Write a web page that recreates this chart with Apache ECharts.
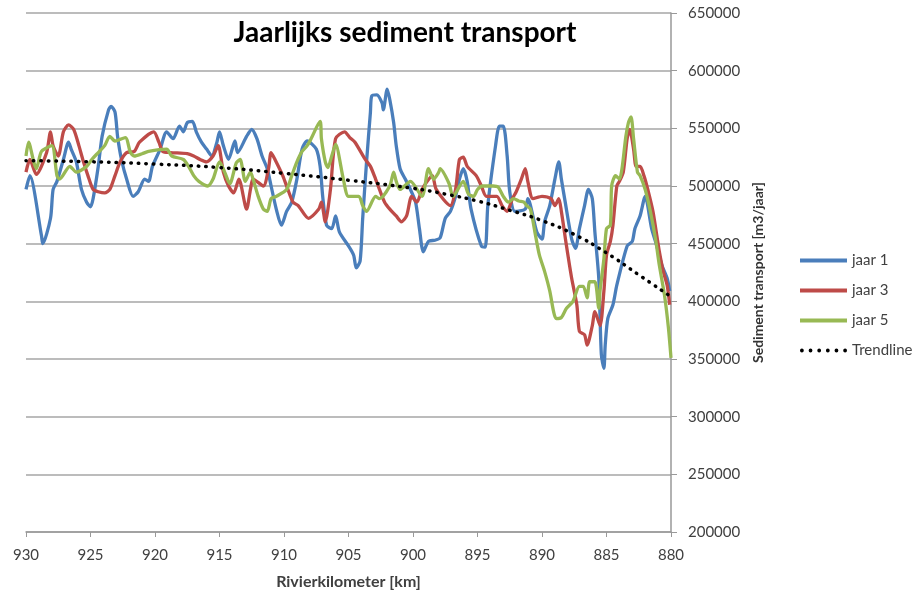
<!DOCTYPE html>
<html>
<head>
<meta charset="utf-8">
<script src="https://cdn.jsdelivr.net/npm/echarts@6/dist/echarts.min.js"></script>
<style>
  html, body { margin: 0; padding: 0; background: #fff; }
  #chart { width: 919px; height: 595px; }
</style>
</head>
<body>
<div id="chart"></div>
<script>
// sediment transport per rivierkilometer, [km, m3/jaar]
const jaar1 = [
  [930.0, 497000], [929.7, 509000], [928.8, 457000], [928.7, 450000], [928.1, 472000],
  [927.9, 497000], [927.6, 504000], [927.1, 523000], [926.7, 538000], [926.5, 532000],
  [926.1, 521000], [925.7, 497000], [925.3, 486000], [925.0, 482000], [924.8, 489000],
  [924.4, 517000], [924.1, 543000], [923.6, 566000], [923.4, 569000], [923.1, 564000],
  [922.9, 543000], [922.6, 523000], [922.2, 506000], [921.7, 491000], [921.3, 495000],
  [920.8, 506000], [920.5, 504000], [920.2, 517000], [919.6, 532000], [919.1, 547000],
  [918.6, 541000], [918.1, 552000], [917.8, 547000], [917.5, 555000], [917.1, 556000],
  [916.8, 547000], [916.4, 538000], [916.0, 532000], [915.6, 526000], [915.2, 538000],
  [915.0, 547000], [914.7, 535000], [914.3, 523000], [913.8, 539000], [913.6, 529000],
  [912.9, 543000], [912.5, 549000], [912.1, 541000], [911.7, 526000], [911.3, 515000],
  [911.0, 500000], [910.6, 480000], [910.2, 466000], [909.8, 478000], [909.4, 486000],
  [909.0, 506000], [908.6, 532000], [908.2, 539000], [907.5, 532000], [907.2, 517000],
  [907.0, 491000], [906.7, 466000], [906.3, 463000], [906.0, 474000], [905.7, 460000],
  [905.0, 448000], [904.6, 440000], [904.4, 429000], [904.1, 435000], [903.9, 472000],
  [903.6, 521000], [903.3, 564000], [903.2, 578000], [902.8, 579000], [902.4, 572000],
  [902.3, 566000], [902.0, 584000], [901.8, 575000], [901.5, 555000], [901.3, 535000],
  [901.0, 515000], [900.6, 506000], [900.2, 497000], [899.8, 486000], [899.5, 463000],
  [899.2, 443000], [898.8, 452000], [898.3, 453000], [897.9, 455000], [897.5, 472000],
  [897.1, 478000], [896.7, 491000], [896.4, 506000], [896.1, 515000], [895.8, 504000],
  [895.5, 480000], [894.7, 448000], [894.4, 447000], [894.2, 483000], [893.6, 535000],
  [893.3, 552000], [893.0, 552000], [892.7, 526000], [892.5, 495000], [892.1, 478000],
  [891.3, 480000], [891.1, 489000], [890.4, 460000], [890.0, 454000], [889.8, 469000],
  [889.4, 483000], [889.0, 506000], [888.7, 521000], [888.5, 506000], [888.2, 486000],
  [887.7, 454000], [887.4, 446000], [887.1, 463000], [886.7, 483000], [886.4, 497000],
  [886.1, 489000], [885.9, 460000], [885.6, 420000], [885.4, 354000], [885.2, 342000],
  [885.1, 362000], [884.9, 385000], [884.5, 397000], [884.2, 414000], [883.4, 448000],
  [883.0, 452000], [882.8, 463000], [882.4, 474000], [882.0, 491000], [881.5, 463000],
  [881.1, 448000], [880.7, 431000], [880.3, 420000], [880.1, 409000]
];

const jaar3 = [
  [930.0, 512000], [929.7, 523000], [929.2, 510000], [928.4, 529000], [928.1, 547000],
  [927.9, 535000], [927.5, 526000], [927.1, 547000], [926.7, 553000], [926.3, 549000],
  [925.9, 535000], [925.6, 523000], [925.2, 509000], [924.8, 497000], [924.4, 495000],
  [923.9, 494000], [923.5, 497000], [923.1, 509000], [922.7, 521000], [922.2, 529000],
  [921.6, 530000], [921.2, 538000], [920.1, 547000], [919.7, 538000], [919.4, 530000],
  [918.8, 529000], [917.5, 528000], [917.0, 526000], [916.5, 523000], [916.0, 521000],
  [915.5, 526000], [915.1, 535000], [914.7, 512000], [914.3, 500000], [913.9, 494000],
  [913.5, 506000], [912.9, 480000], [912.6, 497000], [912.4, 506000], [911.6, 500000],
  [911.2, 515000], [911.0, 529000], [910.7, 523000], [910.1, 509000], [909.7, 497000],
  [909.3, 486000], [908.9, 483000], [908.1, 472000], [907.3, 480000], [907.1, 486000],
  [906.8, 469000], [906.4, 497000], [906.0, 541000], [905.3, 547000], [904.9, 542000],
  [904.5, 538000], [903.7, 523000], [903.3, 517000], [902.9, 506000], [902.6, 497000],
  [902.2, 486000], [901.8, 480000], [901.3, 474000], [900.9, 469000], [900.5, 474000],
  [900.1, 491000], [899.7, 486000], [899.3, 497000], [898.9, 504000], [898.5, 509000],
  [898.2, 497000], [897.1, 483000], [896.7, 497000], [896.4, 523000], [896.1, 525000],
  [895.8, 517000], [895.1, 509000], [894.7, 500000], [894.3, 491000], [893.5, 491000],
  [893.1, 483000], [892.7, 478000], [892.3, 489000], [892.0, 495000], [891.6, 506000],
  [891.3, 515000], [891.1, 504000], [890.7, 489000], [890.0, 491000], [889.3, 489000],
  [889.0, 483000], [888.7, 489000], [888.5, 478000], [888.1, 448000], [887.7, 420000],
  [887.3, 397000], [887.1, 374000], [886.7, 371000], [886.5, 362000], [886.1, 379000],
  [885.9, 391000], [885.5, 379000], [885.2, 409000], [885.0, 440000], [884.7, 452000],
  [884.5, 466000], [884.2, 500000], [884.0, 504000], [883.7, 512000], [883.4, 541000],
  [883.2, 549000], [882.9, 532000], [882.7, 517000], [882.4, 517000], [882.1, 509000],
  [881.8, 497000], [881.4, 478000], [881.1, 457000], [880.9, 443000], [880.6, 426000],
  [880.3, 414000], [880.1, 397000]
];

const jaar5 = [
  [930.0, 526000], [929.8, 538000], [929.4, 521000], [929.2, 515000], [928.8, 530000],
  [928.0, 535000], [927.6, 509000], [927.4, 506000], [926.6, 517000], [926.1, 512000],
  [925.3, 517000], [924.9, 523000], [924.4, 529000], [923.9, 535000], [923.5, 543000],
  [923.1, 539000], [922.3, 542000], [921.9, 529000], [921.6, 526000], [921.0, 528000],
  [920.5, 530000], [919.1, 532000], [918.7, 526000], [917.8, 523000], [917.4, 517000],
  [917.0, 509000], [916.6, 504000], [915.9, 500000], [915.5, 506000], [915.0, 521000],
  [914.6, 512000], [914.2, 502000], [913.7, 520000], [913.4, 523000], [913.0, 504000],
  [912.6, 512000], [912.4, 506000], [912.0, 491000], [911.6, 480000], [911.3, 478000],
  [911.0, 489000], [910.6, 491000], [909.8, 497000], [909.4, 509000], [909.0, 521000],
  [908.6, 530000], [908.2, 535000], [907.9, 541000], [907.2, 556000], [907.1, 541000],
  [906.8, 521000], [906.6, 516000], [906.3, 526000], [906.0, 536000], [905.4, 506000],
  [905.0, 491000], [904.2, 491000], [903.9, 483000], [903.6, 478000], [902.9, 491000],
  [902.6, 489000], [901.8, 500000], [901.5, 512000], [901.3, 504000], [901.0, 497000],
  [900.2, 504000], [899.3, 491000], [898.8, 515000], [898.4, 506000], [898.0, 512000],
  [897.9, 515000], [897.2, 502000], [896.9, 491000], [896.1, 504000], [895.7, 493000],
  [895.3, 491000], [895.0, 497000], [894.6, 500000], [893.8, 500000], [893.4, 499000],
  [893.0, 491000], [892.6, 486000], [892.2, 489000], [891.8, 487000], [891.4, 486000],
  [891.2, 483000], [890.9, 480000], [890.5, 457000], [890.2, 440000], [889.8, 426000],
  [889.4, 409000], [889.1, 391000], [888.9, 385000], [888.5, 386000], [888.1, 394000],
  [887.6, 400000], [887.1, 413000], [886.8, 413000], [886.5, 403000], [886.3, 417000],
  [885.9, 417000], [885.6, 394000], [885.5, 409000], [885.2, 437000], [885.0, 463000],
  [884.7, 466000], [884.6, 500000], [884.3, 509000], [884.0, 506000], [883.8, 515000],
  [883.5, 543000], [883.3, 555000], [883.1, 560000], [882.9, 541000], [882.6, 512000],
  [882.4, 509000], [882.0, 497000], [881.6, 478000], [881.2, 454000], [880.9, 431000],
  [880.5, 405000], [880.2, 377000], [880.0, 351000]
];

const trendline = [
  [930, 522000], [925, 521000], [920, 519000], [915, 516000], [910, 511000],
  [905, 505000], [900, 498000], [897.5, 493000], [895, 487000], [892.5, 479000],
  [890, 470000], [887.5, 458000], [885, 442000], [882.5, 423000], [880, 404000]
];

const seriesNames = ['jaar 1', 'jaar 3', 'jaar 5', 'Trendline'];
const seriesColors = ['#4A7EBB', '#BE4B48', '#98B954', '#000000'];

const font = 'Lato, "Liberation Sans", sans-serif';

// legend icons: solid bar for the years, a row of dots for the trendline
const barIcon = 'path://M0,0H47V4H0Z';
let dotIcon = 'path://';
for (let i = 0; i < 6; i++) {
  const cx = 2 + i * 8.2;
  dotIcon += 'M' + (cx - 1.8) + ',2a1.8,1.8 0 1,0 3.6,0a1.8,1.8 0 1,0 -3.6,0Z';
}

const chart = echarts.init(document.getElementById('chart'));

function dataLine(i, data) {
  return {
    name: seriesNames[i],
    type: 'line',
    data: data,
    showSymbol: false,
    symbol: 'none',
    smooth: 0.25,
    lineStyle: { color: seriesColors[i], width: 3.3 },
    itemStyle: { color: seriesColors[i] },
    z: 3
  };
}

chart.setOption({
  animation: false,
  textStyle: { fontFamily: font },
  title: {
    text: 'Jaarlijks sediment transport',
    left: 400,
    top: 14,
    textAlign: 'center',
    textStyle: { fontFamily: font, fontSize: 28, fontWeight: 'bold', color: '#000' }
  },
  legend: {
    orient: 'vertical',
    left: 795,
    top: 248,
    itemWidth: 47,
    itemHeight: 4,
    itemGap: 15,
    textStyle: { fontFamily: font, fontSize: 15, color: '#404040' },
    data: [
      { name: seriesNames[0], icon: barIcon },
      { name: seriesNames[1], icon: barIcon },
      { name: seriesNames[2], icon: barIcon },
      { name: seriesNames[3], icon: dotIcon }
    ]
  },
  grid: { left: 26, right: 248, top: 13, bottom: 60 },
  xAxis: {
    type: 'value',
    min: 880,
    max: 930,
    interval: 5,
    inverse: true,
    name: 'Rivierkilometer [km]',
    nameLocation: 'middle',
    nameGap: 42,
    nameTextStyle: { fontFamily: font, fontSize: 16, fontWeight: 'bold', color: '#404040' },
    axisLine: { lineStyle: { color: '#999', width: 1.5 } },
    axisTick: { length: 5, lineStyle: { color: '#999' } },
    axisLabel: { fontFamily: font, fontSize: 15, color: '#404040', margin: 16 },
    splitLine: { show: false }
  },
  yAxis: {
    type: 'value',
    position: 'right',
    min: 200000,
    max: 650000,
    interval: 50000,
    name: 'Sediment transport [m3/jaar]',
    nameLocation: 'middle',
    nameRotate: 90,
    nameGap: 80,
    nameTextStyle: { fontFamily: font, fontSize: 14, fontWeight: 'bold', color: '#333' },
    axisLine: { show: true, lineStyle: { color: '#999', width: 1.5 } },
    axisTick: { show: true, length: 6, lineStyle: { color: '#999' } },
    axisLabel: {
      fontFamily: font, fontSize: 15, color: '#404040', margin: 17,
      formatter: function (v) { return String(v); }
    },
    splitLine: { show: true, lineStyle: { color: '#a6a6a6', width: 1.5 } }
  },
  series: [
    dataLine(0, jaar1),
    dataLine(1, jaar3),
    dataLine(2, jaar5),
    {
      name: seriesNames[3],
      type: 'line',
      data: trendline,
      showSymbol: false,
      symbol: 'none',
      smooth: true,
      lineStyle: { color: '#000', width: 3.5, type: [0.5, 7], cap: 'round' },
      itemStyle: { color: '#000' },
      z: 4
    }
  ]
});
</script>
</body>
</html>
